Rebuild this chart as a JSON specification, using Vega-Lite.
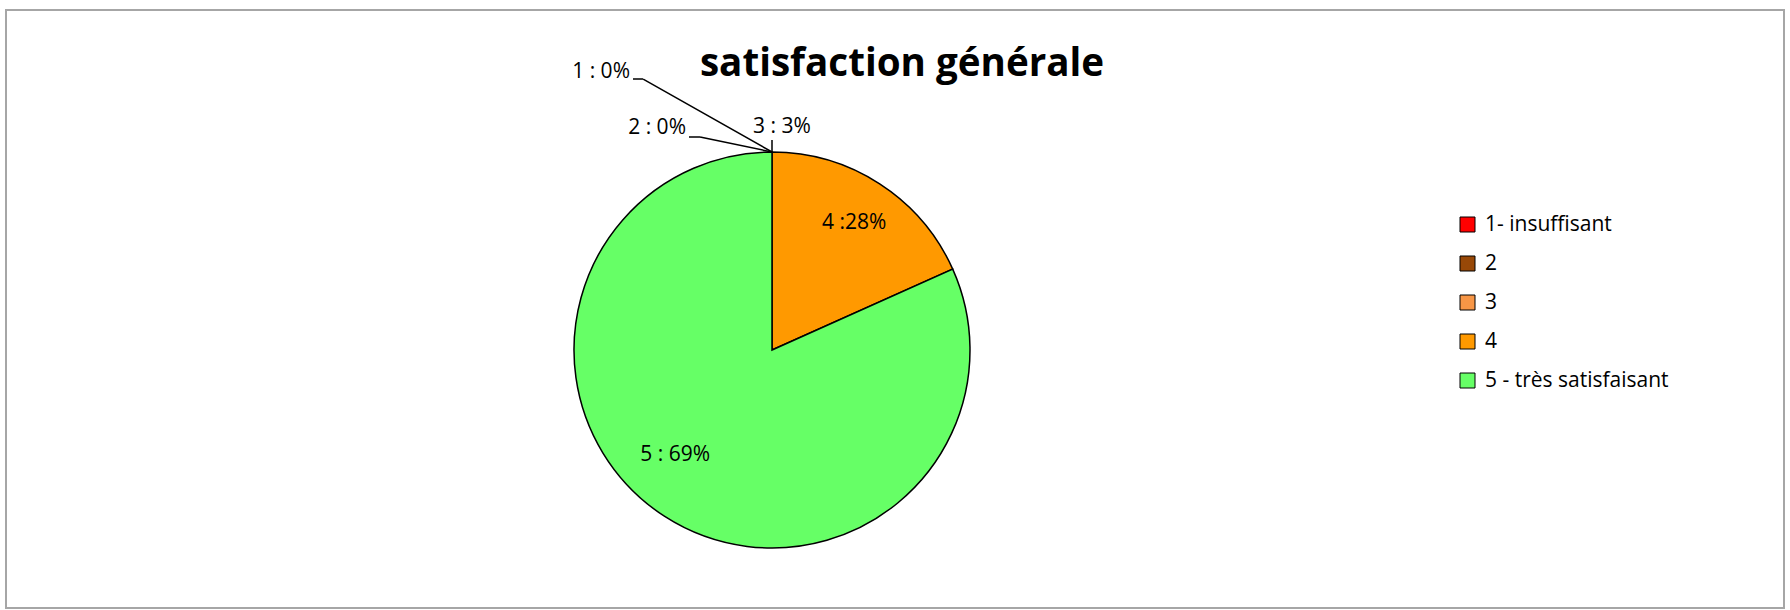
{
  "$schema": "https://vega.github.io/schema/vega-lite/v6.json",
  "width": 1778,
  "height": 598,
  "autosize": {"type": "none"},
  "padding": {"left": 6, "top": 10, "right": 6, "bottom": 2},
  "background": "white",
  "view": {"stroke": "#a6a6a6", "strokeWidth": 2, "fill": "white"},
  "config": {
    "view": {"stroke": "#a6a6a6", "strokeWidth": 2},
    "font": "Open Sans",
    "text": {"font": "Open Sans", "fontSize": 21, "color": "black"}
  },
  "title": {
    "text": "satisfaction générale",
    "font": "Open Sans",
    "fontSize": 38.6,
    "fontWeight": "bold",
    "color": "black",
    "anchor": "middle",
    "frame": "group",
    "orient": "top",
    "baseline": "alphabetic",
    "offset": -65,
    "dy": 40,
    "dx": 7
  },
  "data": {
    "values": [
      {"note": "1- insuffisant", "value": 0, "label": "1 : 0%"},
      {"note": "2", "value": 0, "label": "2 : 0%"},
      {"note": "3", "value": 0, "label": "3 : 3%"},
      {"note": "4", "value": 18.3, "label": "4 :28%"},
      {"note": "5 - très satisfaisant", "value": 81.7, "label": "5 : 69%"}
    ]
  },
  "layer": [
    {
      "mark": {"type": "arc", "outerRadius": 198, "stroke": "black", "strokeWidth": 1.5, "xOffset": -123, "yOffset": 41},
      "encoding": {
        "theta": {"field": "value", "type": "quantitative", "stack": true},
        "color": {
          "field": "note",
          "type": "nominal",
          "scale": {
            "domain": ["1- insuffisant", "2", "3", "4", "5 - très satisfaisant"],
            "range": ["#FF0000", "#984807", "#F79646", "#FF9900", "#66FF66"]
          },
          "legend": {
            "title": null,
            "orient": "none",
            "legendX": 1451,
            "legendY": 204,
            "padding": 0,
            "symbolType": "square",
            "symbolSize": 225,
            "symbolStrokeColor": "black",
            "symbolStrokeWidth": 1,
            "symbolOpacity": 1,
            "labelFont": "Open Sans",
            "labelFontSize": 21,
            "labelColor": "black",
            "labelOffset": 7,
            "rowPadding": 17,
            "labelLimit": 400
          }
        }
      }
    },
    {
      "mark": {"type": "text", "radius": 151, "xOffset": -123, "yOffset": 41, "baseline": "middle", "align": "center"},
      "encoding": {
        "theta": {"field": "value", "type": "quantitative", "stack": true},
        "text": {"condition": {"test": "datum.note === '4'", "field": "label"}, "value": ""}
      }
    },
    {
      "mark": {"type": "text", "radius": 143, "xOffset": -123, "yOffset": 41, "dx": -19, "dy": -15, "baseline": "middle", "align": "center"},
      "encoding": {
        "theta": {"field": "value", "type": "quantitative", "stack": true},
        "text": {"condition": {"test": "datum.note === '5 - très satisfaisant'", "field": "label"}, "value": ""}
      }
    },
    {
      "mark": {"type": "text", "radius": 223, "xOffset": -123, "yOffset": 41, "dx": 10, "baseline": "middle", "align": "center"},
      "encoding": {
        "theta": {"field": "value", "type": "quantitative", "stack": true},
        "text": {"condition": {"test": "datum.note === '3'", "field": "label"}, "value": ""}
      }
    },
    {
      "mark": {"type": "text", "radius": 222, "xOffset": -123, "yOffset": 41, "dx": -86, "baseline": "middle", "align": "right"},
      "encoding": {
        "theta": {"field": "value", "type": "quantitative", "stack": true},
        "text": {"condition": {"test": "datum.note === '2'", "field": "label"}, "value": ""}
      }
    },
    {
      "mark": {"type": "text", "radius": 278, "xOffset": -123, "yOffset": 41, "dx": -142, "baseline": "middle", "align": "right"},
      "encoding": {
        "theta": {"field": "value", "type": "quantitative", "stack": true},
        "text": {"condition": {"test": "datum.note === '1- insuffisant'", "field": "label"}, "value": ""}
      }
    },
    {
      "data": {"values": [{}]},
      "mark": {"type": "arc", "theta": 0, "theta2": 0, "radius": 210, "radius2": 198, "fill": null, "stroke": "black", "strokeWidth": 1.5, "xOffset": -123, "yOffset": 41},
      "encoding": {}
    },
    {
      "data": {"values": [{}]},
      "mark": {"type": "arc", "theta": 5.227, "theta2": 5.227, "radius": 148, "radius2": 0, "fill": null, "stroke": "black", "strokeWidth": 1.5, "xOffset": -123, "yOffset": -157},
      "encoding": {}
    },
    {
      "data": {"values": [{}]},
      "mark": {"type": "arc", "theta": 4.712, "theta2": 4.712, "radius": 10, "radius2": 0, "fill": null, "stroke": "black", "strokeWidth": 1.5, "xOffset": -252, "yOffset": -230},
      "encoding": {}
    },
    {
      "data": {"values": [{}]},
      "mark": {"type": "arc", "theta": 4.918, "theta2": 4.918, "radius": 73.5, "radius2": 0, "fill": null, "stroke": "black", "strokeWidth": 1.5, "xOffset": -123, "yOffset": -157},
      "encoding": {}
    },
    {
      "data": {"values": [{}]},
      "mark": {"type": "arc", "theta": 4.712, "theta2": 4.712, "radius": 11, "radius2": 0, "fill": null, "stroke": "black", "strokeWidth": 1.5, "xOffset": -195, "yOffset": -172},
      "encoding": {}
    }
  ]
}
